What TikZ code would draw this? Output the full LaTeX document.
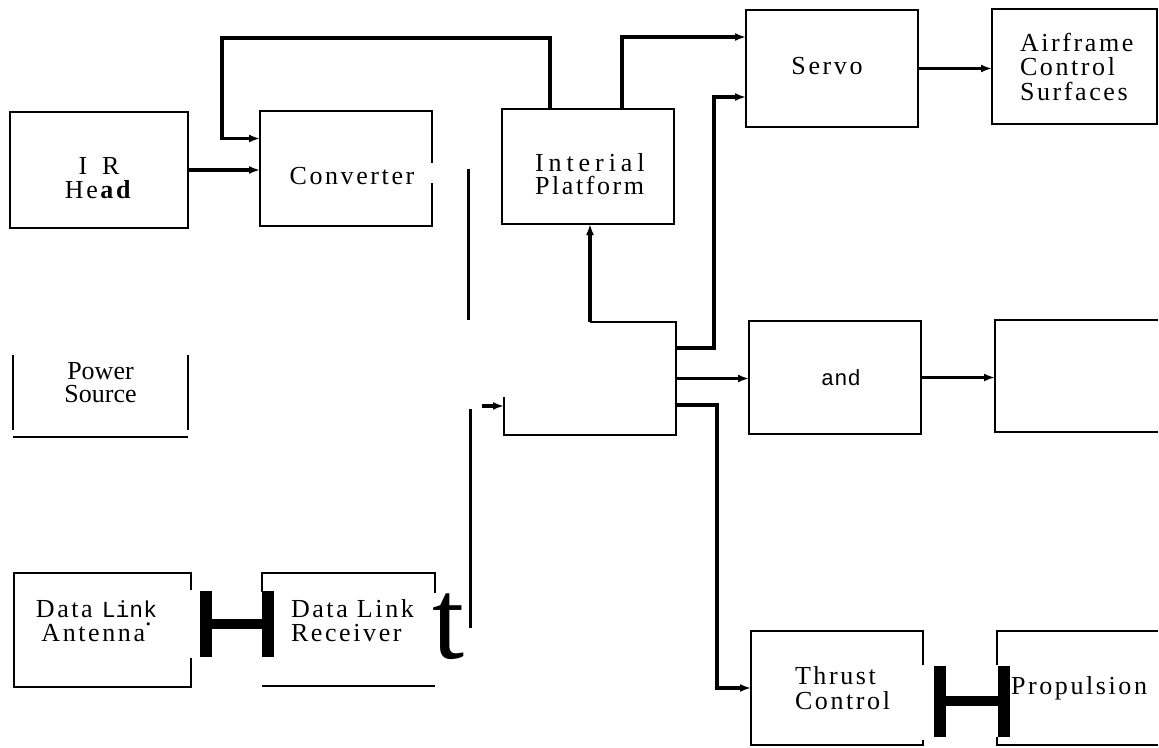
\documentclass[tikz,border=0pt]{standalone}
\usepackage{fontspec}
\usetikzlibrary{arrows.meta,positioning,calc}
\setmainfont{Liberation Serif}
\newfontfamily\lblfont{Liberation Serif}[LetterSpace=10]
\newfontfamily\widefont{Liberation Serif}[LetterSpace=19]
\newfontfamily\plainfont{Liberation Serif}
\newfontfamily\typefont{Liberation Mono}
\tikzset{
  blk/.style={rectangle, inner sep=0pt, outer sep=0pt, align=center,
              font=\lblfont\fontsize{26}{24.5}\selectfont},
  box/.style={blk, draw, line width=2.4pt},
  rim/.style={line width=2.4pt},
  wire/.style={line width=3.4pt},
  arr/.style={wire, -{Latex[length=11pt,width=8pt]}},
  beam/.style={line width=12pt},
  rung/.style={line width=10pt},
}
\begin{document}
\begin{tikzpicture}[x=1pt, y=-1pt]
  \useasboundingbox (0,0) rectangle (1159,747);
  \node[box, minimum width=178pt, minimum height=116pt,
    label={[blk, yshift=-8pt]center:I\hspace{15pt}R\\He\textbf{ad}}] (ir) at (99,170) {};
  \node[blk, minimum width=172pt, minimum height=115pt,
    label={[blk, xshift=6pt, yshift=-8pt]center:Converter}] (conv) at (346,168.5) {};
  \node[box, minimum width=172pt, minimum height=115pt,
    label={[blk, align=left, anchor=west, xshift=33pt, yshift=-8pt,
      font=\lblfont\fontsize{26}{23}\selectfont]west:{\widefont Interial}\\Platform}] (plat) at (588,166.5) {};
  \node[box, minimum width=172pt, minimum height=117pt,
    label={[blk, xshift=-5pt, yshift=2pt]center:Servo}] (servo) at (832,68.5) {};
  \node[box, minimum width=165pt, minimum height=115pt, text width=109pt, align=left] (air) at (1074.5,66.5)
    {Airframe\\Control\\Surfaces};
  \node[blk, minimum width=175pt, minimum height=56pt, font=\plainfont\fontsize{26}{23}\selectfont] (pw) at (100.5,383)
    {Power\\Source};
  \node[blk, minimum width=172pt, minimum height=113pt] (cen) at (590,378.5) {};
  \node[box, minimum width=172pt, minimum height=113pt,
    label={[blk, xshift=6pt, font=\typefont\fontsize{22}{24}\selectfont]center:and}] (and) at (835,377.5) {};
  \node[blk, minimum width=163pt, minimum height=112pt] (rb) at (1076.5,376) {};
  \node[blk, minimum width=177pt, minimum height=114pt,
    label={[blk, xshift=-6pt, yshift=9pt]center:Data {\typefont\fontsize{23}{24.5}\selectfont Link}\\Antenna\raisebox{16pt}{.}}] (ant) at (102.5,630) {};
  \node[blk, minimum width=173pt, minimum height=113pt,
    label={[blk, align=left, anchor=west, xshift=29pt, yshift=9pt]west:Data Link\\Receiver}] (rec) at (348.5,629.5) {};
  \node[blk, font=\plainfont\fontsize{115}{115}\selectfont] (tee) at (448,627) {t};
  \node[blk, minimum width=172pt, minimum height=114pt, text width=84pt, align=left] (thr) at (837,688)
    {\mbox{Thrust}\\\mbox{Control}};
  \node[blk, minimum width=161pt, minimum height=114pt, text width=133pt, align=left] (prop) at (1077.5,688)
    {\mbox{Propulsion}};

  \draw[rim] ([yshift=-52pt]conv.north east) -- (conv.north east) -- (conv.north west)
    -- (conv.south west) -- (conv.south east) -- ([yshift=43pt]conv.south east);
  \draw[rim] (pw.north west) -- ++(0,75) (pw.north east) -- ++(0,75)
    ([yshift=-82pt]pw.north west) -- ([yshift=-82pt]pw.north east);
  \draw[rim] ([yshift=38pt]cen.south west) -- (cen.south west) -- (cen.south east)
    -- (cen.north east) -- (cen.north);
  \draw[rim] (rb.north east) -- (rb.north west) -- (rb.south west) -- (rb.south east);
  \draw[rim] ([yshift=-17pt]ant.north east) -- (ant.north east) -- (ant.north west)
    -- (ant.south west) -- (ant.south east) -- ([yshift=29pt]ant.south east);
  \draw[rim] ([yshift=-19pt]rec.north west) -- (rec.north west) -- (rec.north east)
    -- ([yshift=-20pt]rec.north east);
  \draw[rim] (rec.south west) -- (rec.south east);
  \draw[rim] ([yshift=-34pt]thr.north east) -- (thr.north east) -- (thr.north west)
    -- (thr.south west) -- (thr.south east) -- ([yshift=5pt]thr.south east);
  \draw[rim] ([yshift=-34pt]prop.north west) -- (prop.north west) -- (prop.north east);
  \draw[rim] ([yshift=8pt]prop.south west) -- (prop.south west) -- (prop.south east);

  \draw[arr] (ir.east) -- (ir.east -| conv.west);
  \draw[arr] ([xshift=-38pt]plat.north) -- ++(0,-71) -| ([xshift=-38pt,yshift=30pt]conv.west)
    -- ([yshift=30pt]conv.west);
  \draw[arr] ([xshift=34pt]plat.north) |- ([yshift=31.5pt]servo.west);
  \draw[arr] (servo.east) -- (servo.east -| air.west);
  \draw[arr] (cen.north) -- (cen.north |- plat.south);
  \draw[arr] ([yshift=30.5pt]cen.east) -- ++(38,0) |- ([yshift=-28.5pt]servo.west);
  \draw[arr] (cen.east) -- (cen.east -| and.west);
  \draw[arr] (and.east) -- (and.east -| rb.west);
  \draw[arr] ([yshift=-26.5pt]cen.east) -- ++(41,0) |- (thr.west);

  \coordinate (cvo) at ([xshift=36pt]conv.east);
  \coordinate (rco) at ([xshift=35pt,yshift=2pt]rec.east);
  \draw[wire, line width=3pt] (cvo) -- ++(0,151);
  \draw[wire, line width=3pt] (rco) -- ++(0,-219);
  \draw[arr] ([xshift=-22pt,yshift=-27.5pt]cen.west) -- ([yshift=-27.5pt]cen.west);

  \coordinate (ja) at ([xshift=15pt,yshift=6pt]ant.east);
  \coordinate (jb) at ($(ja -| rec.west)+(6,0)$);
  \coordinate (jc) at ([xshift=17pt,yshift=-13pt]thr.east);
  \coordinate (jd) at ($(jc -| prop.west)+(7,0)$);
  \draw[beam] (ja) ++(0,-33) -- ++(0,66);
  \draw[beam] (jb) ++(0,-33) -- ++(0,66);
  \draw[rung] (ja) -- (jb);
  \draw[beam] (jc) ++(0,-35) -- ++(0,71);
  \draw[beam] (jd) ++(0,-35) -- ++(0,71);
  \draw[rung] (jc) -- (jd);
\end{tikzpicture}
\end{document}
